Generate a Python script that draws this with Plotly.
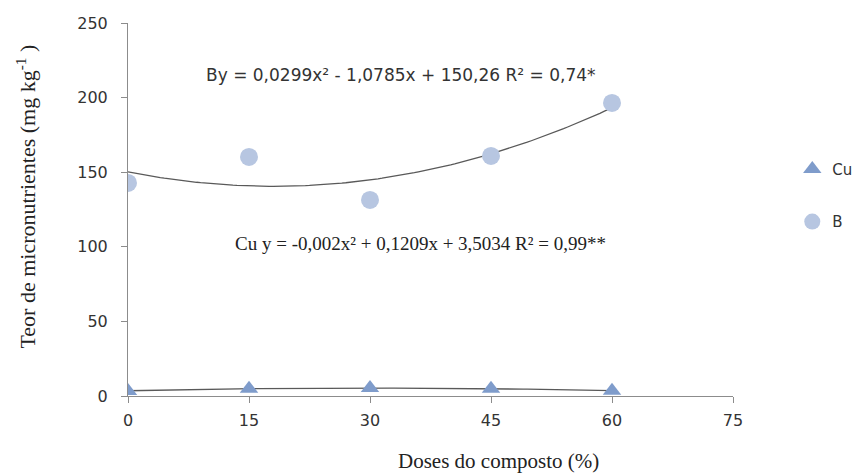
import numpy as np
import plotly.graph_objects as go

doses = [0, 15, 30, 45, 60]
b_values = [142.8, 160.2, 131.4, 160.9, 196.4]
cu_values = [3.4, 4.9, 5.4, 4.8, 3.5]
b_coef = [0.0299, -1.0785, 150.26]
cu_coef = [-0.002, 0.1209, 3.5034]
x_ticks = [0, 15, 30, 45, 60, 75]
y_ticks = [0, 50, 100, 150, 200, 250]

xs = np.linspace(0, 60, 121)
b_fit = np.polyval(b_coef, xs)
cu_fit = np.polyval(cu_coef, xs)

SANS = "DejaVu Sans, Verdana, sans-serif"
SERIF = "Liberation Serif, Times New Roman, serif"

fig = go.Figure()
fig.add_trace(go.Scatter(x=xs, y=b_fit, mode="lines", line=dict(color="#595959", width=1.3),
                         showlegend=False, hoverinfo="skip"))
fig.add_trace(go.Scatter(x=xs, y=cu_fit, mode="lines", line=dict(color="#595959", width=1.3),
                         showlegend=False, hoverinfo="skip"))
fig.add_trace(go.Scatter(x=doses, y=cu_values, mode="markers", name="Cu", legendgroup="cu",
                         marker=dict(symbol="triangle-up", size=16, color="#7F9CCB")))
fig.add_trace(go.Scatter(x=doses, y=b_values, mode="markers", name="B", legendgroup="b",
                         marker=dict(symbol="circle", size=18, color="#B7C6E1")))

fig.add_annotation(x=33.8, y=215, xref="x", yref="y", xanchor="center", showarrow=False,
                   text="By = 0,0299x² - 1,0785x + 150,26 R² = 0,74*",
                   font=dict(family=SANS, size=17, color="#333333"))
fig.add_annotation(x=36.2, y=102.5, xref="x", yref="y", xanchor="center", showarrow=False,
                   text="Cu y = -0,002x² + 0,1209x + 3,5034 R² = 0,99**",
                   font=dict(family=SERIF, size=19, color="#222222"))
fig.add_annotation(x=0.612, y=-0.174, xref="paper", yref="paper", xanchor="center", yanchor="middle",
                   showarrow=False, text="Doses do composto (%)",
                   font=dict(family=SERIF, size=21, color="#222222"))
fig.add_annotation(x=-0.169, y=0.534, xref="paper", yref="paper", xanchor="center", yanchor="middle",
                   showarrow=False, textangle=-90,
                   text="Teor de micronutrientes (mg kg<sup>-1</sup> )",
                   font=dict(family=SERIF, size=22, color="#222222"))

fig.update_xaxes(range=[0, 75], tickvals=x_ticks, showgrid=False, zeroline=False,
                 showline=True, linecolor="#8c8c8c", linewidth=1,
                 ticks="outside", ticklen=6, tickcolor="#8c8c8c", ticklabelstandoff=4,
                 tickfont=dict(family=SANS, size=16, color="#333333"))
fig.update_yaxes(range=[0, 250], tickvals=y_ticks, showgrid=False, zeroline=False,
                 showline=True, linecolor="#8c8c8c", linewidth=1,
                 ticks="outside", ticklen=6, tickcolor="#8c8c8c", ticklabelstandoff=10,
                 tickfont=dict(family=SANS, size=16, color="#333333"))

fig.update_layout(
    width=856, height=465,
    margin=dict(l=120, r=131, t=15, b=77, autoexpand=False),
    plot_bgcolor="white", paper_bgcolor="white",
    legend=dict(x=1.098, y=0.652, xanchor="left", yanchor="top", tracegroupgap=30,
                font=dict(family=SANS, size=15, color="#333333"),
                itemwidth=30, bgcolor="rgba(0,0,0,0)"),
)
fig.write_html("out.html")
